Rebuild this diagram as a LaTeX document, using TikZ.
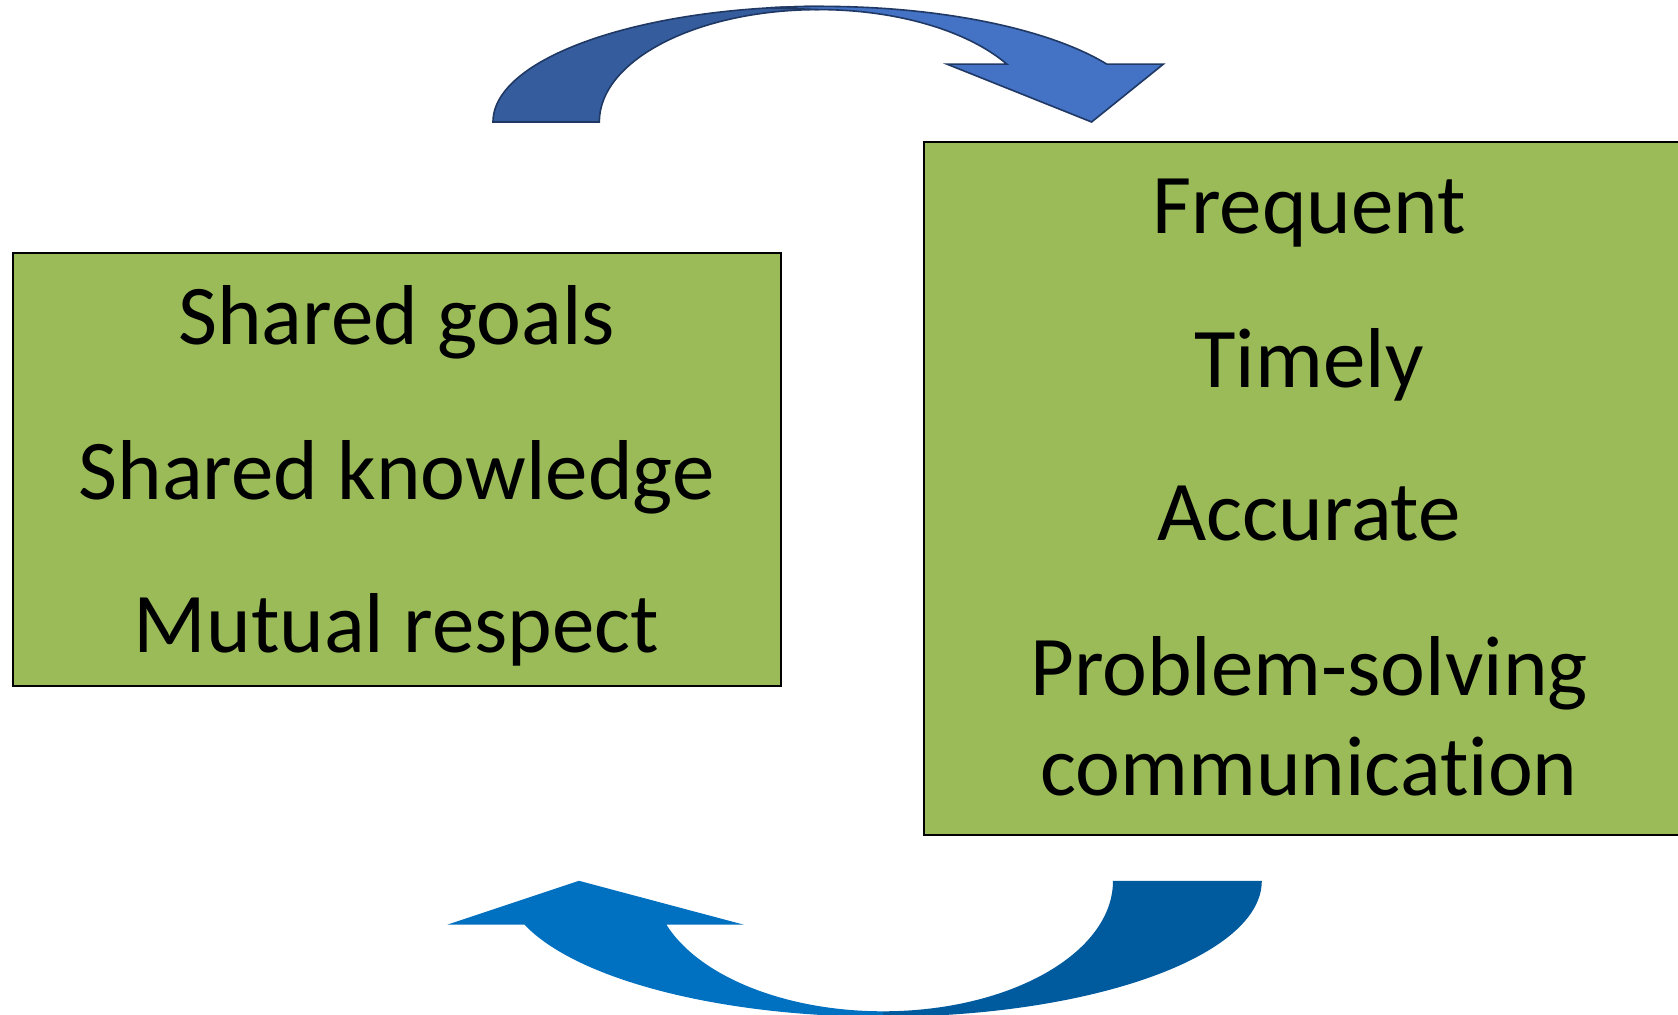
\documentclass[tikz,border=0pt]{standalone}
\usepackage{fontspec}
\setmainfont[Ligatures={NoCommon}]{Carlito}
\definecolor{boxgreen}{HTML}{9BBB59}
\definecolor{topdark}{HTML}{355D9E}
\definecolor{toplight}{HTML}{4472C4}
\definecolor{topline}{HTML}{1F3864}
\definecolor{botlight}{HTML}{0070C0}
\definecolor{botdark}{HTML}{005A9E}
\begin{document}
\begin{tikzpicture}[x=0.5pt,y=0.5pt,
  box/.style={draw=black, line width=0.75pt, fill=boxgreen, inner sep=0},
  txt/.style={font=\fontsize{42.5}{49.8}\selectfont, anchor=base, inner sep=0},
  toparrow/.style={draw=topline, line width=0.8pt, line join=miter}]
\useasboundingbox (0,0) rectangle (1678,1014);
\clip (0,0) rectangle (1678,1014);
\fill[white] (0,0) rectangle (1678,1014);
% boxes
\node[box, minimum width=384pt, minimum height=216.5pt] (leftbox) at (397,544.5) {};
\node[box, minimum width=388pt, minimum height=346.5pt] (rightbox) at (1312,525.5) {};
% left texts
\node[txt] (sg) at (396.5,669.4) {Shared goals};
\node[txt] (sk) at (396.5,514.2) {Shared knowledge};
\node[txt] (mr) at (396.5,361.2) {Mutual respect};
% right texts
\node[txt] (fr) at (1309,780.7) {Frequent};
\node[txt] (ti) at (1309,626.6) {Timely};
\node[txt] (ac) at (1309,473.5) {Accurate};
\node[txt, align=center] (ps) at (1309,218.8) {Problem-solving\\communication};
% top curved arrow
\path[fill=topdark, toparrow] (493,892) arc[start angle=180, end angle=90, x radius=329, y radius=115.6]
  -- (818.7,1004.4) arc[start angle=90, end angle=180, x radius=219.4, y radius=112.4] -- cycle;
\path[fill=toplight, toparrow] (770.5,1006.2) arc[start angle=99, end angle=30, x radius=329, y radius=115.6]
  -- (1163.3,949.8) -- (1091.6,892) -- (947.1,949.8) -- (1006.8,949.9)
  arc[start angle=31, end angle=90, x radius=219.4, y radius=112.4] -- cycle;
% bottom curved arrow
\fill[botdark] (1261.8,133.2) arc[start angle=0, end angle=-90, x radius=378.8, y radius=136]
  -- (883,2.7) arc[start angle=270, end angle=360, x radius=230, y radius=130.5] -- cycle;
\fill[botlight] (883,-2.8) arc[start angle=270, end angle=198.8, x radius=378.8, y radius=136]
  -- (447.3,89.3) -- (579,133.2) -- (743.8,89.3) -- (666.4,89.3)
  arc[start angle=199.66, end angle=270, x radius=230, y radius=130.5] -- cycle;
\end{tikzpicture}
\end{document}
